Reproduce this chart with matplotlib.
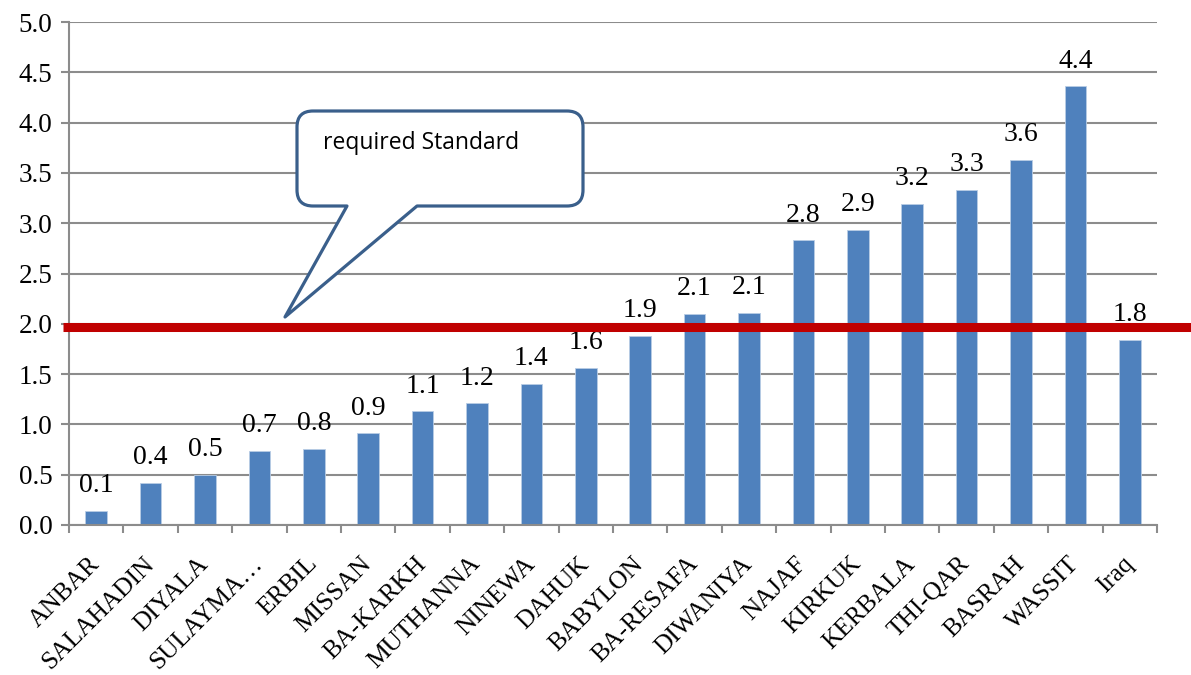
import matplotlib
matplotlib.use("Agg")
import matplotlib.pyplot as plt
from matplotlib.path import Path
from matplotlib.patches import PathPatch
import numpy as np

categories = ["ANBAR", "SALAHADIN", "DIYALA", "SULAYMA\u2026", "ERBIL", "MISSAN", "BA-KARKH",
              "MUTHANNA", "NINEWA", "DAHUK", "BABYLON", "BA-RESAFA", "DIWANIYA", "NAJAF",
              "KIRKUK", "KERBALA", "THI-QAR", "BASRAH", "WASSIT", "Iraq"]
values = [0.14, 0.42, 0.50, 0.74, 0.76, 0.91, 1.13, 1.21, 1.40, 1.56, 1.88, 2.10, 2.11,
          2.83, 2.93, 3.19, 3.33, 3.63, 4.36, 1.84]
value_labels = ["0.1", "0.4", "0.5", "0.7", "0.8", "0.9", "1.1", "1.2", "1.4", "1.6", "1.9",
                "2.1", "2.1", "2.8", "2.9", "3.2", "3.3", "3.6", "4.4", "1.8"]
yticks = [0.0, 0.5, 1.0, 1.5, 2.0, 2.5, 3.0, 3.5, 4.0, 4.5, 5.0]
standard = 1.97
callout_text = "required Standard"

W, H = 1191, 675
fig = plt.figure(figsize=(W / 100, H / 100), dpi=100)
ax = fig.add_axes([69 / W, 1 - 525 / H, (1157 - 69) / W, (525 - 22) / H])

serif = "Liberation Serif"
fs = 19.5
x = np.arange(len(categories))
ax.bar(x, values, width=0.4, color="#4F81BD", edgecolor="#B9CDE5", linewidth=0.6, zorder=2)
for xi, v, lab in zip(x, values, value_labels):
    ax.annotate(lab, (xi, v), xytext=(0, 13.5), textcoords="offset points", ha="center",
                va="baseline", fontsize=20, family=serif, zorder=3)

ax.set_xlim(-0.5, len(categories) - 0.5)
ax.set_ylim(0, 5.0)
ax.set_yticks(yticks)
ax.set_yticklabels([f"{t:.1f}" for t in yticks], fontsize=fs, family=serif)
ax.yaxis.grid(True, color="#8C8C8C", linewidth=1.5, zorder=0)
ax.set_axisbelow(True)

ax.set_xticks(x)
ax.set_xticklabels(categories, rotation=45, ha="right", va="center", rotation_mode="anchor",
                   fontsize=18.3, family=serif)
ax.set_xticks(np.arange(len(categories) + 1) - 0.5, minor=True)
ax.tick_params(axis="x", which="major", length=0, pad=25.5)
ax.tick_params(axis="x", which="minor", length=6, width=1.5, color="#8C8C8C")
ax.tick_params(axis="y", length=6, width=1.5, color="#8C8C8C", pad=6)
for s in ["top", "right"]:
    ax.spines[s].set_visible(False)
for s in ["left", "bottom"]:
    ax.spines[s].set_color("#8C8C8C")
    ax.spines[s].set_linewidth(1.5)

# red standard line across to the figure edge
ax.plot([-0.61, len(categories) + 0.2], [standard, standard], color="#C00000", lw=6.5,
        clip_on=False, zorder=4, solid_capstyle="butt")

# callout shape (figure pixel coordinates)
def P(px, py):
    return (px / W, 1 - py / H)

L, R, T, B, r = 297, 583, 111, 206, 16
tail = [(417, B), (285, 317), (347, B)]
verts = [P(L + r, T), P(R - r, T), P(R, T), P(R, T + r), P(R, B - r), P(R, B), P(R - r, B),
         P(*tail[0]), P(*tail[1]), P(*tail[2]), P(L + r, B), P(L, B), P(L, B - r),
         P(L, T + r), P(L, T), P(L + r, T), P(L + r, T)]
codes = [Path.MOVETO, Path.LINETO, Path.CURVE3, Path.CURVE3, Path.LINETO, Path.CURVE3,
         Path.CURVE3, Path.LINETO, Path.LINETO, Path.LINETO, Path.LINETO, Path.CURVE3,
         Path.CURVE3, Path.LINETO, Path.CURVE3, Path.CURVE3, Path.CLOSEPOLY]
patch = PathPatch(Path(verts, codes), transform=fig.transFigure, facecolor="white",
                  edgecolor="#3A5F8B", linewidth=2.3, zorder=5, joinstyle="round")
fig.patches.append(patch)
fig.text(323 / W, 1 - 143 / H, callout_text, fontsize=16.5, family="Open Sans",
         ha="left", va="center", zorder=6)

fig.savefig("out.png", dpi=100, facecolor="white")
